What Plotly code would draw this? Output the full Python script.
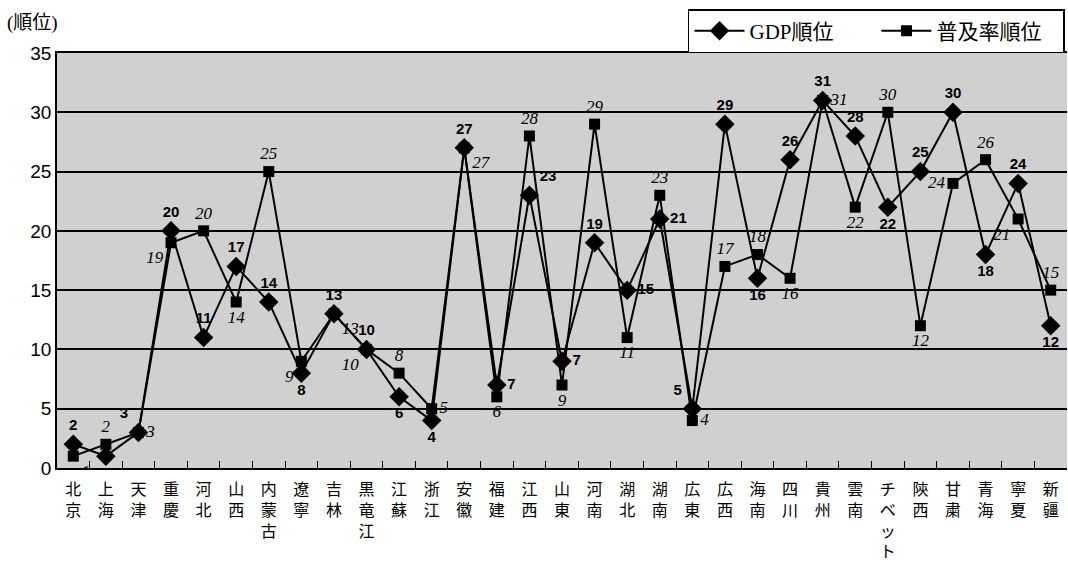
import plotly.graph_objects as go

provinces = ["北京", "上海", "天津", "重慶", "河北", "山西", "内蒙古", "遼寧", "吉林", "黒竜江",
             "江蘇", "浙江", "安徽", "福建", "江西", "山東", "河南", "湖北", "湖南", "広東",
             "広西", "海南", "四川", "貴州", "雲南", "チベット", "陝西", "甘粛", "青海", "寧夏", "新疆"]

gdp_rank = [2, 1, 3, 20, 11, 17, 14, 8, 13, 10, 6, 4, 27, 7, 23, 9, 19, 15, 21, 5,
            29, 16, 26, 31, 28, 22, 25, 30, 18, 24, 12]
gdp_labels = ["2", "1", "3", "20", "11", "17", "14", "8", "13", "10", "6", "4", "27", "7", "23", "7",
              "19", "15", "21", "5", "29", "16", "26", "31", "28", "22", "25", "30", "18", "24", "12"]

pop_rank = [1, 2, 3, 19, 20, 14, 25, 9, 13, 10, 8, 5, 27, 6, 28, 7, 29, 11, 23, 4,
            17, 18, 16, 31, 22, 30, 12, 24, 26, 21, 15]
pop_labels = ["1", "2", "3", "19", "20", "14", "25", "9", "13", "10", "8", "5", "27", "6", "28", "9",
              "29", "11", "23", "4", "17", "18", "16", "31", "22", "30", "12", "24", "26", "21", "15"]

gdp_pos = ["top center", "bottom right", "top left", "top center", "top center", "top center",
           "top center", "bottom center", "top center", "top center", "bottom center", "bottom center",
           "top center", "middle right", "top right", "middle right", "top center", "middle right",
           "middle right", "top left", "top center", "bottom center", "top center", "top center",
           "top center", "bottom center", "top center", "top center", "bottom center", "top center",
           "bottom center"]
pop_pos = ["bottom right", "top center", "middle right", "bottom left", "top center", "bottom center",
           "top center", "bottom left", "bottom right", "bottom left", "top center", "middle right",
           "bottom right", "bottom center", "top center", "bottom center", "top center", "bottom center",
           "top center", "middle right", "top center", "top center", "bottom center", "middle right",
           "bottom center", "top center", "bottom center", "middle left", "top center", "bottom left",
           "top center"]

xcats = ["<br>".join(p) for p in provinces]

fig = go.Figure()
fig.add_trace(go.Scatter(
    x=xcats, y=gdp_rank, name="GDP順位", mode="lines+markers+text",
    line=dict(color="black", width=2),
    marker=dict(symbol="diamond", size=15, color="black"),
    text=gdp_labels, textposition=gdp_pos,
    textfont=dict(family="Liberation Sans", size=15, color="black", weight="bold"),
))
fig.add_trace(go.Scatter(
    x=xcats, y=pop_rank, name="普及率順位", mode="lines+markers+text",
    line=dict(color="black", width=2),
    marker=dict(symbol="square", size=11, color="black"),
    text=pop_labels, textposition=pop_pos,
    textfont=dict(family="Liberation Serif", size=17, color="black", style="italic"),
))

fig.update_layout(
    width=1068, height=563,
    margin=dict(l=57, r=1, t=53, b=93),
    paper_bgcolor="white", plot_bgcolor="#d0d0d0",
    font=dict(family="Liberation Serif, Noto Sans CJK JP", color="black"),
    showlegend=True,
    legend=dict(orientation="h", x=0.998, xanchor="right", y=1.106, yanchor="top",
                bgcolor="white", bordercolor="black", borderwidth=1.5,
                entrywidth=122, itemwidth=50,
                font=dict(size=21, family="Liberation Serif, Noto Sans CJK JP")),
    annotations=[dict(text="(順位)", xref="paper", yref="paper", x=-0.051, y=1.072,
                      xanchor="left", yanchor="middle", showarrow=False,
                      font=dict(size=19, family="Liberation Serif, Noto Sans CJK JP"))],
)
fig.update_xaxes(
    type="category", range=[-0.5, len(provinces) - 0.5],
    showgrid=False, showline=True, linecolor="black", linewidth=1.5,
    mirror=True, ticks="inside", ticklen=7, tickcolor="black", tickson="boundaries",
    tickangle=0, ticklabelstandoff=6, tickfont=dict(size=16, family="Noto Sans CJK JP"),
)
fig.update_yaxes(
    range=[0, 35], dtick=5, showgrid=True, gridcolor="black", gridwidth=1.5,
    showline=True, linecolor="black", linewidth=1.5, zeroline=False, ticks="",
    tickfont=dict(size=19, family="Liberation Sans"),
)

fig.write_html("out.html")
